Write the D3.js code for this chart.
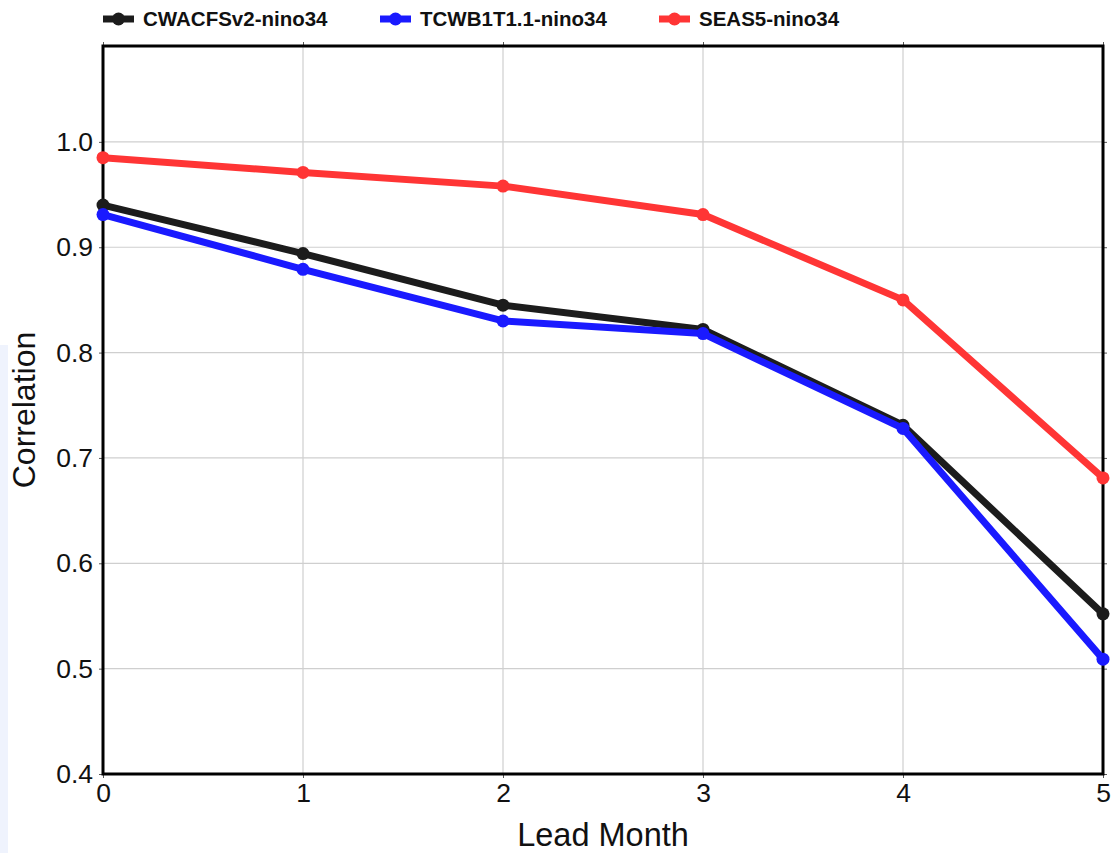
<!DOCTYPE html>
<html>
<head>
<meta charset="utf-8">
<script src="https://cdn.jsdelivr.net/npm/d3@7"></script>
<style>
  body { margin: 0; background: #fff; }
  svg { display: block; }
</style>
</head>
<body>
<script>
const width = 1114;
const height = 853;
const margin = { top: 46, right: 11, bottom: 79, left: 103 };

const leadMonths = [0, 1, 2, 3, 4, 5];
const cwacfs = [0.940, 0.894, 0.845, 0.822, 0.731, 0.552];
const tcwb = [0.931, 0.879, 0.830, 0.818, 0.728, 0.509];
const seas5 = [0.985, 0.971, 0.958, 0.931, 0.850, 0.681];
const yTicks = [0.4, 0.5, 0.6, 0.7, 0.8, 0.9, 1.0];

const series = [
  { name: "CWACFSv2-nino34", values: cwacfs, color: "#1c1c1c", legendX: 103 },
  { name: "TCWB1T1.1-nino34", values: tcwb, color: "#1a1aff", legendX: 380 },
  { name: "SEAS5-nino34", values: seas5, color: "#ff3535", legendX: 659 }
];

const svg = d3.select("body")
  .append("svg")
  .attr("width", width)
  .attr("height", height);

// faint strip on left edge
svg.append("rect")
  .attr("x", 0).attr("y", 345)
  .attr("width", 8).attr("height", height - 345)
  .attr("fill", "#eff3fd");

const x = d3.scaleLinear()
  .domain([0, 5])
  .range([margin.left, width - margin.right]);

const y = d3.scaleLinear()
  .domain([0.4, 1.091])
  .range([height - margin.bottom, margin.top]);

const plotBottom = y(0.4);
const plotTop = y.range()[1];

// grid
svg.append("g")
  .selectAll("line")
  .data(leadMonths.slice(1, -1))
  .enter()
  .append("line")
  .attr("x1", d => x(d)).attr("x2", d => x(d))
  .attr("y1", plotTop).attr("y2", plotBottom)
  .attr("stroke", "#cfcfcf")
  .attr("stroke-width", 1.2);

svg.append("g")
  .selectAll("line")
  .data(yTicks.slice(1))
  .enter()
  .append("line")
  .attr("x1", x(0)).attr("x2", x(5))
  .attr("y1", d => y(d)).attr("y2", d => y(d))
  .attr("stroke", "#cfcfcf")
  .attr("stroke-width", 1.2);

// axes
const xAxis = d3.axisBottom(x).tickValues(leadMonths).tickSize(4).tickPadding(5).tickFormat(d3.format("d"));
const yAxis = d3.axisLeft(y).tickValues(yTicks).tickSize(4).tickPadding(6).tickFormat(d3.format(".1f"));

function styleAxis(g) {
  g.select(".domain").remove();
  g.selectAll(".tick line").attr("stroke", "#555");
  g.selectAll(".tick text")
    .attr("font-family", "Liberation Sans, Arial, sans-serif")
    .attr("font-size", 26.5)
    .attr("fill", "#111");
}

svg.append("g")
  .attr("transform", `translate(0, ${plotBottom})`)
  .call(xAxis)
  .call(styleAxis);

svg.append("g")
  .attr("transform", `translate(${x(0)}, 0)`)
  .call(yAxis)
  .call(styleAxis);

// outward ticks on top and right
svg.append("g")
  .attr("transform", `translate(0, ${plotTop})`)
  .call(d3.axisTop(x).tickValues(leadMonths).tickSize(4).tickFormat(""))
  .call(g => { g.select(".domain").remove(); g.selectAll(".tick line").attr("stroke", "#555"); });

svg.append("g")
  .attr("transform", `translate(${x(5)}, 0)`)
  .call(d3.axisRight(y).tickValues(yTicks).tickSize(4).tickFormat(""))
  .call(g => { g.select(".domain").remove(); g.selectAll(".tick line").attr("stroke", "#555"); });

// frame
svg.append("rect")
  .attr("x", x(0)).attr("y", plotTop)
  .attr("width", x(5) - x(0)).attr("height", plotBottom - plotTop)
  .attr("fill", "none")
  .attr("stroke", "#000")
  .attr("stroke-width", 3);

// lines
const line = d3.line()
  .x((d, i) => x(leadMonths[i]))
  .y(d => y(d));

series.forEach(s => {
  svg.append("path")
    .datum(s.values)
    .attr("d", line)
    .attr("fill", "none")
    .attr("stroke", s.color)
    .attr("stroke-width", 7)
    .attr("stroke-linejoin", "round");

  svg.append("g")
    .selectAll("circle")
    .data(s.values)
    .enter()
    .append("circle")
    .attr("cx", (d, i) => x(leadMonths[i]))
    .attr("cy", d => y(d))
    .attr("r", 6.5)
    .attr("fill", s.color);
});

// legend
const legend = svg.append("g");
series.forEach(s => {
  const g = legend.append("g").attr("transform", `translate(${s.legendX}, 19)`);
  g.append("line")
    .attr("x1", 0).attr("x2", 31)
    .attr("stroke", s.color)
    .attr("stroke-width", 7);
  g.append("circle")
    .attr("cx", 15.5).attr("r", 6.5)
    .attr("fill", s.color);
  g.append("text")
    .attr("x", 40)
    .attr("dy", "0.36em")
    .attr("font-family", "Liberation Sans, Arial, sans-serif")
    .attr("font-weight", "bold")
    .attr("font-size", 20.5)
    .attr("fill", "#111")
    .text(s.name);
});

// axis titles
svg.append("text")
  .attr("x", (x(0) + x(5)) / 2)
  .attr("y", 846)
  .attr("text-anchor", "middle")
  .attr("font-family", "Liberation Sans, Arial, sans-serif")
  .attr("font-size", 32.5)
  .attr("fill", "#111")
  .text("Lead Month");

svg.append("text")
  .attr("transform", `translate(35, ${(plotTop + plotBottom) / 2}) rotate(-90)`)
  .attr("text-anchor", "middle")
  .attr("font-family", "Liberation Sans, Arial, sans-serif")
  .attr("font-size", 32)
  .attr("fill", "#111")
  .text("Correlation");
</script>
</body>
</html>
